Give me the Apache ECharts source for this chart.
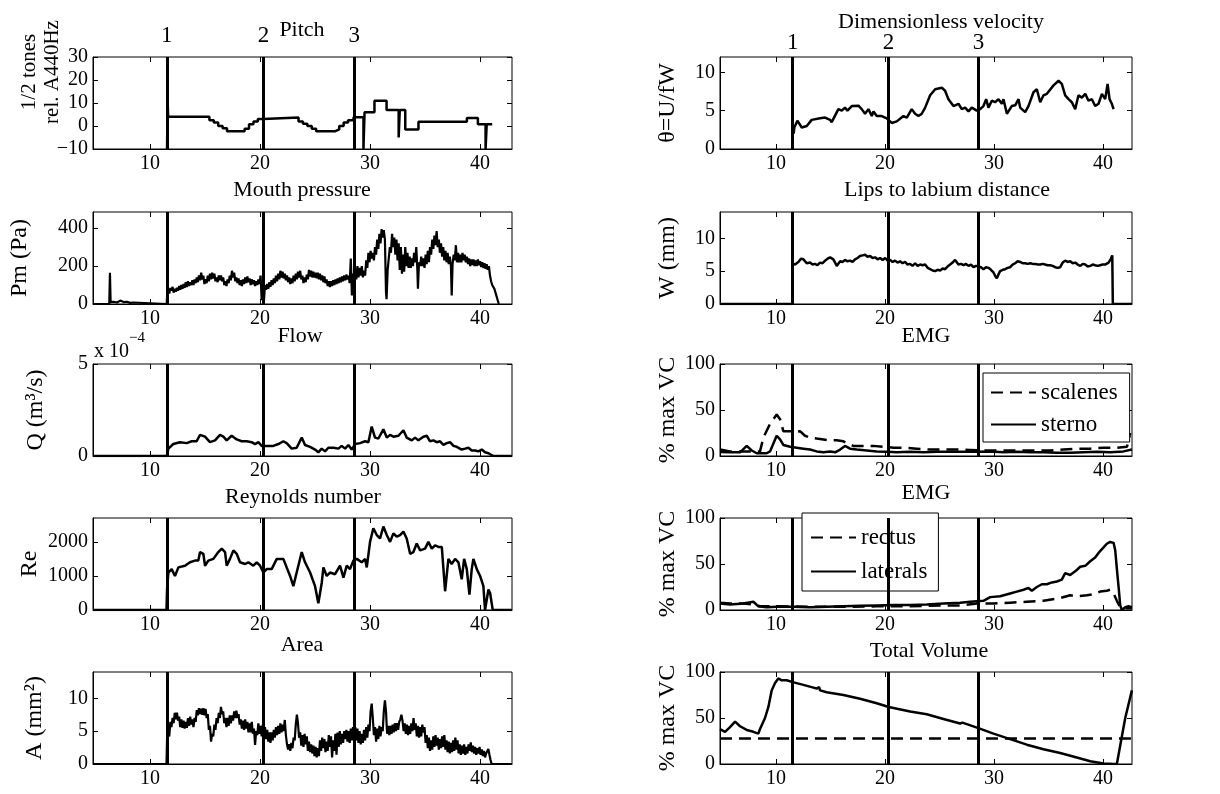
<!DOCTYPE html>
<html><head><meta charset="utf-8">
<script src="https://cdn.jsdelivr.net/npm/echarts@6/dist/echarts.min.js"></script>
<style>html,body{margin:0;padding:0;background:#fff}#c{width:1220px;height:794px}</style>
</head><body><div id="c"></div>
<script>
// ---------------- DATA ----------------
const xTicks=[10,20,30,40];
const markers=[11.53,20.32,28.57];
const markerLabels=['1','2','3'];

const pitchTicks=[-10,0,10,20,30];
const velTicks=[0,5,10];
const pmTicks=[0,200,400];
const wTicks=[0,5,10];
const qTicks=[0,5];
const emgTicks=[0,50,100];
const reTicks=[0,1000,2000];
const aTicks=[0,5,10];
const volTicks=[0,50,100];

const pitch=[[11.55,-10],[11.6,11],[11.65,4],[15.4,4],[15.4,2.5],[15.8,2.5],[15.8,1.5],[16.2,1.5],[16.2,0],[16.6,0],[16.6,-1],[17.0,-1],[17.0,-2.3],[18.6,-2.3],[18.6,-1.2],[19.0,-1.2],[19.0,0.8],[19.4,0.8],[19.4,2],[19.8,2],[19.8,3],[20.3,3],[20.3,3.7],[23.5,3.7],[23.5,2],[23.9,2],[23.9,1],[24.3,1],[24.3,0],[24.7,0],[24.7,-1.2],[25.1,-1.2],[25.1,-2.3],[26.8,-2.3],[26.8,-1.5],[27.2,-1.5],[27.2,0],[27.6,0],[27.6,1.5],[28.0,1.5],[28.0,2.5],[28.5,2.5],[28.5,3.8],[29.4,3.8],[29.4,-10],[29.5,-10],[29.5,6],[30.4,6],[30.4,11],[31.5,11],[31.5,7],[32.6,7],[32.6,-5],[32.7,-5],[32.7,7],[33.2,7],[33.2,-1.5],[34.4,-1.5],[34.4,1.8],[38.8,1.8],[38.8,3.5],[39.8,3.5],[39.8,0.8],[40.5,0.8],[40.5,-10],[40.6,-10],[40.6,0.8],[41.1,0.8]];

const velocity=[[11.62,2.0],[11.68,2.8],[11.96,3.7],[12.36,2.8],[12.82,3.0],[13.27,3.8],[14.04,4.0],[14.5,4.1],[14.96,3.8],[15.11,3.5],[15.72,5.2],[16.03,5.0],[16.33,5.4],[16.55,5.0],[16.95,5.6],[17.56,5.65],[17.86,5.2],[18.17,4.6],[18.48,5.2],[18.78,4.3],[18.94,4.9],[19.24,4.3],[19.7,4.3],[20.16,4.0],[20.62,3.4],[21.08,3.6],[21.69,4.3],[22.0,4.1],[22.45,5.2],[22.76,4.6],[23.07,4.3],[23.37,4.6],[23.68,5.4],[24.14,7.0],[24.6,7.8],[25.21,8.0],[25.51,7.6],[25.82,6.5],[26.28,5.6],[26.74,5.9],[27.04,5.2],[27.35,5.4],[27.66,4.9],[27.96,5.4],[28.42,5.0],[28.73,5.2],[29.03,5.6],[29.28,6.5],[29.49,5.4],[29.8,6.3],[30.1,6.1],[30.41,6.5],[30.72,5.9],[30.87,6.5],[31.18,4.6],[31.63,5.6],[31.94,5.7],[32.25,6.5],[32.4,5.4],[32.86,4.8],[33.16,5.6],[33.62,7.4],[33.93,7.8],[34.24,6.1],[34.54,7.0],[34.85,7.2],[35.46,8.3],[35.92,8.9],[36.22,8.5],[36.53,7.0],[36.84,6.5],[37.14,6.1],[37.45,5.2],[37.75,7.0],[38.06,6.7],[38.37,7.2],[38.67,6.3],[38.98,6.5],[39.28,5.6],[39.59,5.9],[39.9,7.2],[40.05,7.3],[40.2,6.5],[40.42,8.5],[40.6,6.5],[40.81,5.9],[40.97,5.2]];

const mouthPressure=[[4.82,0],[6.3,0],[6.36,165],[6.42,10],[6.7,12],[7.0,8],[7.3,18],[7.6,10],[7.9,12],[8.2,6],[8.45,8],[8.5,0],[11.52,0],[11.55,40],[11.65,75],[11.75,55],[11.85,85],[11.95,70],[12.05,90],[12.15,60],[12.25,80],[12.35,65],[12.45,85],[12.55,70],[12.65,95],[12.75,75],[12.85,100],[12.95,80],[13.05,105],[13.15,85],[13.25,115],[13.35,90],[13.45,120],[13.55,95],[13.65,115],[13.75,100],[13.85,125],[13.95,100],[14.05,130],[14.15,110],[14.25,140],[14.35,115],[14.45,150],[14.55,125],[14.65,165],[14.75,130],[14.85,150],[14.95,105],[15.05,130],[15.15,110],[15.25,150],[15.35,120],[15.45,160],[15.55,130],[15.65,165],[15.75,135],[15.85,160],[15.95,120],[16.05,140],[16.15,115],[16.25,150],[16.35,125],[16.45,150],[16.55,120],[16.65,140],[16.75,100],[16.85,120],[16.95,95],[17.05,130],[17.15,110],[17.25,150],[17.35,125],[17.45,175],[17.55,140],[17.65,165],[17.75,120],[17.85,140],[17.95,110],[18.05,135],[18.15,100],[18.25,125],[18.35,95],[18.45,130],[18.55,105],[18.65,140],[18.75,110],[18.85,145],[18.95,115],[19.05,135],[19.15,100],[19.25,130],[19.35,105],[19.45,125],[19.55,95],[19.65,120],[19.75,100],[19.85,130],[19.95,105],[20.05,150],[20.15,20],[20.25,110],[20.35,10],[20.45,100],[20.55,75],[20.65,105],[20.75,80],[20.85,115],[20.95,90],[21.05,125],[21.15,100],[21.25,135],[21.35,110],[21.45,150],[21.55,120],[21.65,160],[21.75,130],[21.85,175],[21.95,140],[22.05,170],[22.15,135],[22.25,160],[22.35,125],[22.45,150],[22.55,115],[22.65,140],[22.75,105],[22.85,135],[22.95,110],[23.05,150],[23.15,120],[23.25,160],[23.35,130],[23.45,170],[23.55,140],[23.65,175],[23.75,130],[23.85,150],[23.95,110],[24.05,140],[24.15,115],[24.25,155],[24.35,130],[24.45,180],[24.55,145],[24.65,175],[24.75,140],[24.85,170],[24.95,140],[25.05,165],[25.15,135],[25.25,165],[25.35,130],[25.45,160],[25.55,125],[25.65,150],[25.75,115],[25.85,145],[25.95,110],[26.05,130],[26.15,95],[26.25,120],[26.35,90],[26.45,120],[26.55,95],[26.65,125],[26.75,100],[26.85,130],[26.95,105],[27.05,135],[27.15,110],[27.25,140],[27.35,115],[27.45,145],[27.55,120],[27.65,150],[27.75,125],[27.85,155],[27.95,130],[28.05,150],[28.15,110],[28.25,240],[28.35,45],[28.45,160],[28.55,120],[28.65,180],[28.75,130],[28.85,200],[28.95,140],[29.05,190],[29.15,150],[29.25,200],[29.35,140],[29.45,175],[29.55,150],[29.65,230],[29.75,190],[29.85,270],[29.95,220],[30.05,280],[30.15,240],[30.25,270],[30.35,230],[30.45,300],[30.55,260],[30.65,340],[30.75,290],[30.85,370],[30.95,320],[31.05,395],[31.15,350],[31.25,390],[31.35,340],[31.45,60],[31.5,25],[31.6,180],[31.7,240],[31.8,300],[31.9,270],[32.0,370],[32.1,300],[32.2,350],[32.3,260],[32.4,340],[32.5,230],[32.6,320],[32.7,180],[32.8,300],[32.9,160],[33.0,260],[33.1,170],[33.2,300],[33.3,200],[33.4,270],[33.5,190],[33.6,250],[33.7,190],[33.8,240],[33.9,200],[34.0,270],[34.1,220],[34.2,300],[34.3,180],[34.35,80],[34.45,220],[34.55,200],[34.65,250],[34.75,200],[34.85,240],[34.95,190],[35.05,260],[35.15,210],[35.25,280],[35.35,220],[35.45,300],[35.55,260],[35.65,340],[35.75,290],[35.85,360],[35.95,310],[36.05,385],[36.15,300],[36.25,340],[36.35,270],[36.45,320],[36.55,250],[36.65,300],[36.75,230],[36.85,280],[36.95,220],[37.05,270],[37.15,210],[37.25,250],[37.35,200],[37.42,45],[37.5,210],[37.6,260],[37.7,230],[37.8,310],[37.9,220],[38.0,270],[38.1,220],[38.2,260],[38.3,220],[38.4,270],[38.5,230],[38.6,260],[38.7,220],[38.8,250],[38.9,210],[39.0,240],[39.1,200],[39.2,235],[39.3,205],[39.4,235],[39.5,200],[39.6,230],[39.7,200],[39.8,235],[39.9,205],[40.0,225],[40.1,195],[40.2,220],[40.3,190],[40.4,215],[40.5,185],[40.6,210],[40.7,180],[40.8,200],[40.9,150],[41.0,120],[41.1,100],[41.2,90],[41.3,80],[41.4,60],[41.5,40],[41.6,20],[41.7,0]];

const lipDist=[[4.86,0],[11.5,0],[11.53,6.2],[11.74,6.0],[12.05,6.4],[12.3,6.9],[12.51,6.8],[12.82,6.2],[13.12,6.3],[13.35,6.0],[13.58,6.1],[13.8,5.9],[14.04,6.3],[14.27,6.2],[14.5,6.6],[14.73,6.9],[14.96,7.1],[15.26,6.8],[15.45,6.2],[15.57,5.8],[15.88,6.5],[16.1,6.4],[16.33,6.7],[16.56,6.5],[16.79,6.6],[17.02,6.4],[17.25,6.8],[17.48,7.0],[17.71,7.3],[17.94,7.4],[18.17,7.5],[18.4,7.2],[18.63,7.3],[18.86,7.0],[19.09,7.1],[19.32,6.8],[19.55,7.0],[19.78,6.7],[20.01,7.0],[20.24,6.6],[20.47,6.7],[20.7,6.4],[20.92,6.6],[21.15,6.3],[21.38,6.5],[21.61,6.2],[21.84,6.4],[22.07,6.0],[22.3,6.1],[22.53,5.8],[22.76,6.2],[22.99,5.8],[23.22,6.0],[23.45,5.9],[23.68,6.0],[23.91,5.5],[24.14,5.3],[24.37,5.1],[24.6,5.0],[24.83,5.2],[25.06,5.1],[25.29,5.4],[25.51,5.3],[25.74,5.7],[25.97,6.0],[26.2,6.3],[26.43,6.7],[26.6,6.4],[26.74,6.0],[26.97,6.1],[27.2,5.9],[27.43,6.1],[27.66,5.8],[27.89,6.0],[28.12,5.6],[28.35,5.8],[28.57,5.7],[28.8,5.6],[29.03,5.3],[29.26,5.6],[29.49,5.5],[29.72,5.2],[29.95,4.8],[30.1,4.3],[30.26,3.9],[30.41,4.5],[30.56,5.0],[30.8,5.2],[31.02,5.3],[31.25,5.5],[31.48,5.6],[31.71,6.0],[31.94,6.2],[32.17,6.5],[32.4,6.4],[32.63,6.2],[32.86,6.2],[33.09,6.1],[33.32,6.2],[33.55,6.1],[33.78,6.1],[34.01,6.0],[34.24,6.0],[34.47,6.1],[34.69,6.0],[34.92,5.9],[35.15,5.9],[35.38,5.8],[35.61,5.6],[35.84,5.5],[36.07,5.6],[36.3,6.3],[36.53,6.6],[36.76,6.4],[36.99,6.5],[37.22,6.2],[37.45,6.3],[37.68,6.0],[37.91,5.8],[38.14,6.1],[38.37,6.0],[38.6,5.7],[38.83,5.8],[39.06,6.0],[39.28,5.9],[39.51,5.8],[39.74,5.9],[39.97,6.0],[40.2,6.0],[40.51,6.3],[40.7,6.8],[40.85,7.4],[40.9,0],[42.66,0]];

const flow=[[4.82,0],[11.52,0],[11.67,0.4],[12.12,0.65],[12.73,0.75],[13.33,0.7],[13.79,0.8],[14.24,0.8],[14.55,1.15],[15.0,1.05],[15.45,0.75],[15.91,0.85],[16.36,1.15],[16.67,1.05],[16.97,0.85],[17.42,1.1],[17.88,0.9],[18.33,0.8],[18.79,0.8],[19.24,0.75],[19.55,0.65],[19.85,0.75],[20.15,0.55],[20.6,0.55],[21.21,0.55],[21.67,0.65],[22.12,0.8],[22.42,0.7],[22.88,0.4],[23.33,0.45],[23.79,1.0],[24.09,0.6],[24.55,0.5],[25.0,0.35],[25.3,0.2],[25.6,0.4],[25.91,0.25],[26.21,0.45],[26.67,0.45],[27.12,0.4],[27.42,0.55],[27.73,0.4],[28.03,0.6],[28.33,0.35],[28.64,0.65],[29.09,0.7],[29.55,0.8],[29.85,0.75],[30.15,1.6],[30.45,1.0],[30.76,0.95],[31.21,1.45],[31.52,1.0],[31.82,1.15],[32.12,1.05],[32.58,1.1],[33.03,1.4],[33.33,1.0],[33.79,0.85],[34.09,1.0],[34.39,0.85],[34.85,1.05],[35.15,1.1],[35.45,0.8],[35.76,0.85],[36.06,0.75],[36.36,0.8],[36.67,0.6],[36.97,0.7],[37.27,0.75],[37.58,0.55],[37.88,0.5],[38.33,0.35],[38.64,0.4],[38.94,0.45],[39.24,0.3],[39.55,0.3],[39.85,0.25],[40.15,0.35],[40.45,0.2],[40.76,0.15],[40.91,0.05],[41.21,0],[42.9,0]];

const scalenes=[[4.86,7],[5.78,5],[7.0,5],[7.92,5],[8.53,5],[8.84,20],[9.45,35],[10.06,45],[10.37,40],[10.67,27],[11.29,27],[11.74,26],[12.2,27],[12.66,22],[13.12,20],[13.73,19],[14.35,18],[14.96,17],[15.57,17],[16.18,16],[16.64,13],[17.1,11],[18.02,11],[18.94,11],[19.85,10],[20.77,9],[21.69,9],[22.91,8],[24.14,7],[25.36,7],[26.59,7],[27.81,6.5],[29.03,6],[30.26,6],[31.48,6],[32.71,6],[33.93,6],[35.15,6],[36.38,7],[37.6,8],[38.83,8],[40.05,9],[41.27,9],[42.2,10],[42.5,25]];
const sterno=[[4.86,4.4],[5.78,4],[6.7,4],[7.31,11],[7.77,6],[8.23,3],[9.14,3],[9.45,5],[10.06,22],[10.37,18],[10.67,12],[11.29,10],[11.9,9],[12.51,8],[13.12,7],[13.73,5],[14.35,4],[14.96,5],[15.42,4],[15.88,7],[16.33,11],[16.79,8],[17.41,7],[18.32,6],[19.24,5],[20.16,4.5],[21.08,4],[22.3,4.5],[23.53,4],[24.75,4.5],[25.97,4.5],[27.2,4.5],[28.42,4.5],[29.65,5],[30.87,4],[32.09,4.5],[33.32,4],[34.54,4],[35.77,3.5],[36.99,3.5],[38.21,4],[39.44,4.5],[40.66,4],[41.88,5],[42.65,7]];

const reynolds=[[4.82,0],[11.5,0],[11.55,600],[11.67,1100],[11.97,1200],[12.27,1000],[12.58,1250],[13.18,1300],[13.64,1400],[14.09,1450],[14.39,1450],[14.55,1700],[14.85,1650],[15.0,1300],[15.3,1450],[15.76,1500],[16.21,1700],[16.52,1800],[16.82,1700],[16.97,1300],[17.27,1500],[17.58,1750],[17.88,1650],[18.18,1400],[18.64,1350],[18.94,1400],[19.39,1300],[19.7,1400],[20.0,1300],[20.3,1100],[20.6,1200],[21.06,1200],[21.52,1500],[22.12,1500],[22.42,1250],[22.73,1000],[23.03,700],[23.33,1100],[23.79,1700],[24.09,1400],[24.55,1100],[25.0,700],[25.3,200],[25.61,800],[25.76,1250],[26.06,1000],[26.36,1100],[26.82,1050],[27.27,1300],[27.58,950],[27.88,1300],[28.18,1200],[28.48,1450],[28.79,1500],[29.24,1400],[29.55,1500],[29.7,1250],[30.0,2000],[30.3,2400],[30.61,2200],[30.91,2100],[31.21,2450],[31.52,2200],[31.82,2000],[32.12,2250],[32.42,2150],[32.73,2200],[33.03,2300],[33.33,2100],[33.64,1650],[33.94,1700],[34.24,1950],[34.55,1750],[35.0,1800],[35.3,2000],[35.61,1800],[35.91,1900],[36.21,1850],[36.52,1850],[36.82,550],[37.12,1500],[37.42,1350],[37.73,1500],[38.03,1400],[38.33,900],[38.55,1500],[38.79,1200],[39.03,450],[39.24,1200],[39.39,1500],[39.7,1200],[40.0,1000],[40.3,700],[40.45,0],[40.76,600],[40.91,500],[41.15,0],[42.9,0]];

const laterals=[[4.86,7],[5.78,6],[7.0,7],[7.92,9],[8.38,4],[9.14,3],[10.06,3.5],[11.59,3.5],[13.12,3],[14.65,3.5],[16.18,4],[17.71,4.5],[19.24,5],[20.77,5.5],[22.3,5.5],[23.83,6],[25.36,7],[26.89,8],[27.81,9],[28.42,9.5],[29.03,10],[29.65,14],[30.56,15],[31.48,18],[32.09,20],[32.71,22],[33.16,24],[33.47,21],[33.93,25],[34.39,28],[34.85,28],[35.31,30],[35.77,31],[36.22,33],[36.53,40],[36.99,38],[37.45,42],[37.91,47],[38.37,48],[38.83,53],[39.28,57],[39.59,62],[40.05,68],[40.35,72],[40.66,74],[40.97,73],[41.12,65],[41.27,45],[41.43,25],[41.58,5],[41.73,0],[42.04,3],[42.34,4],[42.65,3]];
const rectus=[[4.86,8],[5.78,7],[7.0,7],[7.92,6],[8.53,4],[10.06,4],[13.12,3.5],[16.18,3.5],[19.24,4],[22.3,4],[25.36,5],[26.89,5],[28.42,7],[29.95,7],[31.48,8],[33.01,9],[34.54,10],[36.07,13],[36.99,16],[37.6,15],[38.52,16],[39.13,17],[39.74,20],[40.35,21],[40.66,22],[40.97,18],[41.27,10],[41.58,3],[42.04,2],[42.65,2]];

const area=[[4.82,0],[11.5,0],[11.55,3.8],[11.65,5.0],[11.75,4.2],[11.85,6.4],[11.95,5.6],[12.05,7.0],[12.15,6.2],[12.25,7.8],[12.35,6.8],[12.45,7.8],[12.55,6.6],[12.65,7.2],[12.75,5.6],[12.85,6.8],[12.95,5.5],[13.05,6.6],[13.15,5.4],[13.25,6.4],[13.35,5.5],[13.45,7.0],[13.55,5.8],[13.65,7.2],[13.75,6.0],[13.85,6.8],[13.95,5.6],[14.05,7.0],[14.15,6.4],[14.25,8.2],[14.35,7.4],[14.45,8.5],[14.55,7.6],[14.65,8.4],[14.75,7.5],[14.85,8.5],[14.95,7.4],[15.05,8.4],[15.15,7.0],[15.25,7.6],[15.35,5.2],[15.45,5.8],[15.55,3.4],[15.65,4.6],[15.75,4.2],[15.85,6.0],[15.95,5.2],[16.05,7.0],[16.15,6.2],[16.25,7.8],[16.35,7.0],[16.45,8.7],[16.55,7.6],[16.65,8.0],[16.75,6.2],[16.85,7.0],[16.95,5.6],[17.05,7.0],[17.15,5.8],[17.25,7.4],[17.35,6.2],[17.45,7.4],[17.55,6.6],[17.65,8.0],[17.75,7.0],[17.85,8.1],[17.95,7.0],[18.05,7.6],[18.15,6.0],[18.25,6.8],[18.35,5.4],[18.45,6.6],[18.55,5.2],[18.65,6.8],[18.75,5.4],[18.85,6.4],[18.95,4.8],[19.05,6.2],[19.15,4.8],[19.25,6.4],[19.35,4.6],[19.45,5.4],[19.55,2.9],[19.65,5.0],[19.75,4.4],[19.85,6.2],[19.95,4.6],[20.05,5.8],[20.15,4.2],[20.25,6.0],[20.35,4.4],[20.45,5.6],[20.55,3.8],[20.65,5.2],[20.75,3.4],[20.85,4.8],[20.95,3.2],[21.05,4.8],[21.15,3.6],[21.25,5.2],[21.35,4.0],[21.45,5.6],[21.55,4.4],[21.65,5.8],[21.75,4.6],[21.85,6.2],[21.95,4.8],[22.05,6.0],[22.15,5.0],[22.25,6.7],[22.35,4.4],[22.45,3.0],[22.55,2.2],[22.65,3.0],[22.75,2.0],[22.85,3.2],[22.95,2.4],[23.05,4.0],[23.15,3.6],[23.25,6.0],[23.35,7.5],[23.45,6.2],[23.55,4.0],[23.65,4.8],[23.75,2.8],[23.85,4.4],[23.95,2.6],[24.05,4.6],[24.15,3.0],[24.25,4.2],[24.35,2.0],[24.45,3.4],[24.55,1.8],[24.65,3.0],[24.75,1.6],[24.85,2.8],[24.95,1.2],[25.05,2.6],[25.15,1.0],[25.25,2.4],[25.35,1.2],[25.45,3.6],[25.55,2.0],[25.65,4.0],[25.75,2.4],[25.85,3.8],[25.95,1.8],[26.05,3.4],[26.15,2.0],[26.25,4.4],[26.35,2.6],[26.45,4.2],[26.55,1.0],[26.65,3.6],[26.75,2.0],[26.85,4.6],[26.95,1.4],[27.05,4.8],[27.15,2.6],[27.25,5.0],[27.35,3.0],[27.45,4.6],[27.55,3.2],[27.65,5.0],[27.75,3.8],[27.85,5.2],[27.95,3.4],[28.05,5.0],[28.15,3.2],[28.25,5.4],[28.35,3.6],[28.45,5.6],[28.55,3.8],[28.65,5.6],[28.75,3.6],[28.85,5.4],[28.95,3.2],[29.05,5.0],[29.15,3.0],[29.25,4.6],[29.35,3.2],[29.45,5.2],[29.55,3.6],[29.65,5.6],[29.75,4.0],[29.85,6.0],[29.95,5.0],[30.05,8.0],[30.15,9.2],[30.25,7.0],[30.35,4.4],[30.45,5.6],[30.55,3.4],[30.65,5.4],[30.75,3.8],[30.85,5.8],[30.95,4.2],[31.05,5.6],[31.15,5.0],[31.25,8.0],[31.35,9.7],[31.45,8.0],[31.55,4.6],[31.65,5.8],[31.75,4.4],[31.85,5.8],[31.95,4.6],[32.05,6.0],[32.15,4.8],[32.25,6.2],[32.35,5.0],[32.45,6.2],[32.55,5.2],[32.65,6.4],[32.75,6.8],[32.85,7.5],[32.95,6.6],[33.05,5.0],[33.15,6.2],[33.25,4.6],[33.35,6.0],[33.45,4.4],[33.55,5.8],[33.65,4.6],[33.75,6.2],[33.85,5.0],[33.95,7.0],[34.05,5.2],[34.15,6.2],[34.25,4.2],[34.35,5.8],[34.45,4.0],[34.55,5.6],[34.65,4.2],[34.75,6.0],[34.85,4.8],[34.95,5.6],[35.05,3.2],[35.15,4.4],[35.25,2.4],[35.35,4.0],[35.45,2.0],[35.55,3.6],[35.65,2.2],[35.75,4.2],[35.85,2.6],[35.95,4.4],[36.05,2.8],[36.15,4.0],[36.25,2.2],[36.35,3.8],[36.45,2.4],[36.55,4.2],[36.65,2.6],[36.75,4.4],[36.85,2.2],[36.95,3.6],[37.05,1.8],[37.15,3.4],[37.25,1.6],[37.35,3.2],[37.45,1.8],[37.55,3.6],[37.65,2.0],[37.75,4.0],[37.85,2.2],[37.95,3.6],[38.05,1.6],[38.15,3.0],[38.25,1.4],[38.35,2.8],[38.45,1.6],[38.55,3.0],[38.65,1.4],[38.75,2.6],[38.85,1.6],[38.95,3.0],[39.05,2.0],[39.15,3.3],[39.25,1.8],[39.35,2.8],[39.45,1.6],[39.55,2.6],[39.65,1.4],[39.75,2.4],[39.85,1.6],[39.95,2.6],[40.05,1.4],[40.15,2.2],[40.25,1.2],[40.35,2.0],[40.45,1.0],[40.55,1.6],[40.65,1.4],[40.75,2.3],[40.85,1.4],[40.95,0.6],[41.05,0],[42.9,0]];

const volume=[[4.86,38],[5.32,35],[5.78,40],[6.24,46],[6.7,41],[7.31,37],[7.92,35],[8.38,33],[8.53,38],[8.99,50],[9.3,62],[9.6,80],[9.91,88],[10.21,93],[10.52,91],[10.98,91],[11.53,89],[12.51,86],[13.43,83],[13.73,82],[13.95,83.5],[14.04,80],[14.65,78],[16.18,75],[17.71,71],[19.24,66],[20.34,62],[22.3,57],[23.83,54],[25.36,49],[26.89,44],[27.1,45],[28.57,39],[29.95,33],[31.48,27],[33.01,21],[34.54,16],[36.07,12],[37.6,7],[38.83,3],[40.05,0.5],[40.97,0],[41.27,0],[42.04,50],[42.65,80]];
const volThreshold=28;

// ---------------- LAYOUT ----------------
const FONT="'Liberation Serif','Times New Roman','DejaVu Serif',serif";
const COLS=[{left:93,width:419,xMin:4.82,xMax:42.9},{left:720,width:412,xMin:4.86,xMax:42.66}];
const ROW_TOPS=[57,212,364,518,672];
const ROW_H=92;
const DASH=[12,7];
const TICK_FS=20, TITLE_FS=22, NAME_FS=24, LEG_FS=23, MARK_FS=23;

const panels=[
 {c:0,r:0,yMin:-10,yMax:30,ticks:pitchTicks,name:'1/2 tones\nrel. A440Hz',nfs:21,gap:29,namePad:[0,0,0,62],title:'Pitch',tx:302,ty:30,series:[{name:'pitch',data:pitch}],mlabel:10},
 {c:1,r:0,yMin:0,yMax:12,ticks:velTicks,name:'θ=U/fW',gap:39,title:'Dimensionless velocity',tx:941,ty:22,series:[{name:'theta',data:velocity}],mlabel:3},
 {c:0,r:1,yMin:0,yMax:485,ticks:pmTicks,name:'Pm (Pa)',gap:60,title:'Mouth pressure',tx:302,ty:190,series:[{name:'pm',data:mouthPressure,w:2.2}]},
 {c:1,r:1,yMin:0,yMax:14,ticks:wTicks,name:'W (mm)',gap:39,title:'Lips to labium distance',tx:947,ty:190,series:[{name:'w',data:lipDist}]},
 {c:0,r:2,yMin:0,yMax:5,ticks:qTicks,name:'Q (m³/s)',gap:44,title:'Flow',tx:300,ty:336,series:[{name:'q',data:flow}]},
 {c:1,r:2,yMin:0,yMax:100,ticks:emgTicks,name:'% max VC',gap:39,title:'EMG',tx:926,ty:336,series:[{name:'scalenes',data:scalenes,dash:true},{name:'sterno',data:sterno}]},
 {c:0,r:3,yMin:0,yMax:2700,ticks:reTicks,name:'Re',gap:50,title:'Reynolds number',tx:303,ty:497,series:[{name:'re',data:reynolds}]},
 {c:1,r:3,yMin:0,yMax:100,ticks:emgTicks,name:'% max VC',gap:39,title:'EMG',tx:926,ty:493,series:[{name:'rectus',data:rectus,dash:true},{name:'laterals',data:laterals}]},
 {c:0,r:4,yMin:0,yMax:14,ticks:aTicks,name:'A (mm²)',gap:45,title:'Area',tx:302,ty:645,series:[{name:'area',data:area,w:2.2}]},
 {c:1,r:4,yMin:0,yMax:100,ticks:volTicks,name:'% max VC',gap:39,title:'Total Volume',tx:929,ty:651,series:[{name:'volume',data:volume}],threshold:volThreshold}
];

const txt=fs=>({fontFamily:FONT,fontSize:fs,fontWeight:'normal',color:'#000'});
const grid=[],xAxis=[],yAxis=[],series=[],title=[];
panels.forEach((p,i)=>{
  const col=COLS[p.c];
  grid.push({left:col.left,top:ROW_TOPS[p.r],width:col.width,height:ROW_H,show:true,borderColor:'#000',borderWidth:1,backgroundColor:'transparent',containLabel:false,outerBoundsMode:'none'});
  const tick={show:true,inside:true,length:5,lineStyle:{color:'#000',width:1},customValues:xTicks};
  xAxis.push({gridIndex:i,type:'value',position:'bottom',min:col.xMin,max:col.xMax,axisLine:{show:true,onZero:false,lineStyle:{color:'#000',width:1}},axisTick:tick,splitLine:{show:false},axisLabel:Object.assign({customValues:xTicks,margin:5},txt(TICK_FS))});
  xAxis.push({gridIndex:i,type:'value',position:'top',min:col.xMin,max:col.xMax,axisLine:{show:false,onZero:false},axisTick:tick,splitLine:{show:false},axisLabel:{show:false}});
  const ytick={show:true,inside:true,length:5,lineStyle:{color:'#000',width:1},customValues:p.ticks};
  const nfs=p.nfs||NAME_FS;
  yAxis.push({gridIndex:i,type:'value',position:'left',min:p.yMin,max:p.yMax,axisLine:{show:true,onZero:false,lineStyle:{color:'#000',width:1}},axisTick:ytick,splitLine:{show:false},
    axisLabel:Object.assign({customValues:p.ticks,margin:5,formatter:v=>v<0?'\u2212'+(-v):String(v)},txt(TICK_FS)),
    name:p.name,nameLocation:'middle',nameGap:p.gap,nameRotate:90,nameMoveOverlap:false,
    nameTextStyle:Object.assign({lineHeight:nfs+2,padding:p.namePad||0},txt(nfs))});
  yAxis.push({gridIndex:i,type:'value',position:'right',min:p.yMin,max:p.yMax,axisLine:{show:false,onZero:false},axisTick:ytick,splitLine:{show:false},axisLabel:{show:false}});
  p.series.forEach((s,k)=>{
    const ser={type:'line',name:s.name,xAxisIndex:2*i,yAxisIndex:2*i,data:s.data,showSymbol:false,symbol:'none',animation:false,
      lineStyle:{color:'#000',width:s.w||2.5,type:s.dash?DASH:'solid'},itemStyle:{color:'#000'},z:3};
    if(k===0){
      const md=markers.map((m,j)=>({xAxis:m,name:markerLabels[j]}));
      if(p.threshold!=null) md.push({yAxis:p.threshold,name:'',lineStyle:{type:DASH,width:2.5},label:{show:false}});
      ser.markLine={silent:true,symbol:['none','none'],animation:false,precision:4,
        label:Object.assign({show:p.mlabel!=null,position:'end',distance:p.mlabel||5,formatter:'{b}'},txt(MARK_FS)),
        lineStyle:{color:'#000',width:3,type:'solid'},data:md};
    }
    series.push(ser);
  });
  title.push({text:p.title,left:p.tx,top:p.ty,textAlign:'center',textVerticalAlign:'middle',padding:0,
    textStyle:txt(TITLE_FS)});
});
// exponent label of the Flow panel
title.push({text:'{a|x 10}{b|\u22124}',left:94,top:331,padding:0,
  textStyle:{fontWeight:'normal',rich:{a:{fontFamily:FONT,fontSize:20,fontWeight:'normal',color:'#000',verticalAlign:'bottom',lineHeight:31},b:{fontFamily:FONT,fontSize:15,fontWeight:'normal',color:'#000',verticalAlign:'top',lineHeight:16}}}});

const legendCommon={orient:'vertical',backgroundColor:'#fff',borderColor:'#000',borderWidth:1,itemWidth:45,itemHeight:14,selectedMode:false,
  itemStyle:{color:'rgba(0,0,0,0)',borderWidth:0,opacity:0},
  textStyle:{fontFamily:FONT,fontSize:LEG_FS,color:'#000'}};
const legend=[
  Object.assign({data:['scalenes','sterno'],left:983,top:373,padding:[8,12,6,7],itemGap:9},legendCommon),
  Object.assign({data:['rectus','laterals'],left:802,top:513,padding:[13,11,8,8],itemGap:11},legendCommon)
];

const chart=echarts.init(document.getElementById('c'),null,{renderer:'canvas'});
chart.setOption({animation:false,backgroundColor:'#fff',grid,xAxis,yAxis,series,title,legend});
</script></body></html>
